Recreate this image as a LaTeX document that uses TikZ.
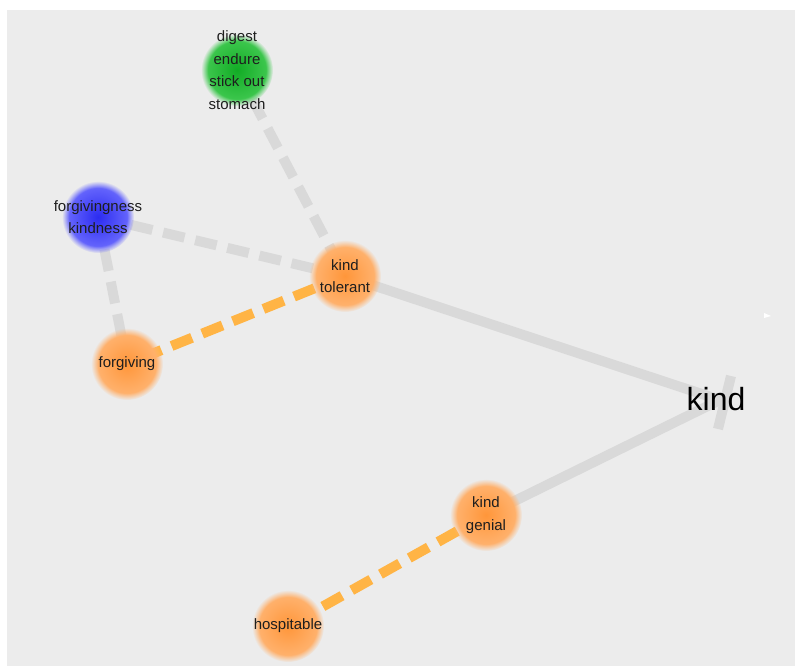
\documentclass[tikz,border=0pt]{standalone}
\usepackage{fontspec}
\setmainfont{Liberation Sans}
\usepackage{tikz}
\usetikzlibrary{fadings}

\definecolor{canvas}{HTML}{ECECEC}
\definecolor{edgegray}{HTML}{D9D9D9}
\definecolor{edgeorange}{HTML}{FFB445}
\definecolor{orangein}{HTML}{FF963A}
\definecolor{orangeout}{HTML}{FFB777}
\definecolor{bluein}{HTML}{2C2CF0}
\definecolor{blueout}{HTML}{7070FF}
\definecolor{greenin}{HTML}{12AC25}
\definecolor{greenout}{HTML}{45CC55}
\definecolor{labeltext}{HTML}{1E1E1E}

\begin{document}
\begin{tikzpicture}[x=1pt,y=-1pt,
  blob/.style={path fading=circle with fuzzy edge 20 percent},
  orangeblob/.style={blob,inner color=orangein,outer color=orangeout},
  blueblob/.style={blob,inner color=bluein,outer color=blueout},
  greenblob/.style={blob,inner color=greenin,outer color=greenout},
  lbl/.style={align=center,text=labeltext,font=\fontsize{15}{22.5}\selectfont},
  grayline/.style={line width=10pt,edgegray},
  graydash/.style={grayline,dash pattern=on 22pt off 11pt},
  orangedash/.style={line width=10pt,edgeorange,dash pattern=on 22pt off 11pt}]

\useasboundingbox (0,0) rectangle (795,666);
\fill[white] (0,0) rectangle (795,666);
\fill[canvas] (7,10) rectangle (795,666);

  \coordinate (tip) at (720,400);
  \coordinate (barT) at (731,376);
  \coordinate (barB) at (718,429);

  \node (stomach) at (237,70) {};
  \node (kindness) at (98,217) {};
  \node (tolerant) at (345,276) {};
  \node (forgiving) at (127,364) {};
  \node (genial) at (486,515) {};
  \node (hospitable) at (288,626) {};

%%% connectors %%%
\draw[grayline] (tolerant.center) -- (tip) (genial.center) -- (tip);
\draw[grayline] (barT) -- (barB);

\draw[graydash] (stomach.center) -- (tolerant.center);
\draw[graydash] (tolerant.center) -- (kindness.center);
\draw[graydash] (kindness.center) -- (forgiving.center);

\draw[orangedash] (tolerant.center) -- (forgiving.center);
\draw[orangedash] (genial.center) -- (hospitable.center);

%%% circles %%%
\shade[greenblob] (stomach.center) circle (36pt);
\shade[blueblob] (kindness.center) circle (36pt);
\shade[orangeblob] (tolerant.center) circle (36pt);
\shade[orangeblob] (forgiving.center) circle (36pt);
\shade[orangeblob] (genial.center) circle (36pt);
\shade[orangeblob] (hospitable.center) circle (36pt);

%%% labels %%%
\draw (stomach) node [lbl] {digest\\endure\\stick out\\stomach}
    (kindness) node [lbl] {forgivingness\\kindness}
    (tolerant) node [lbl] {kind\\tolerant}
    (forgiving) node [lbl] {forgiving}
    (genial) node [lbl] {kind\\genial}
    (hospitable) node [lbl] {hospitable};

\node (kind) at (716,399) [text=black,font=\fontsize{32}{38}\selectfont] {kind};

\fill[white] (764,313) -- (771,316) -- (764,318) -- cycle;
\end{tikzpicture}
\end{document}
